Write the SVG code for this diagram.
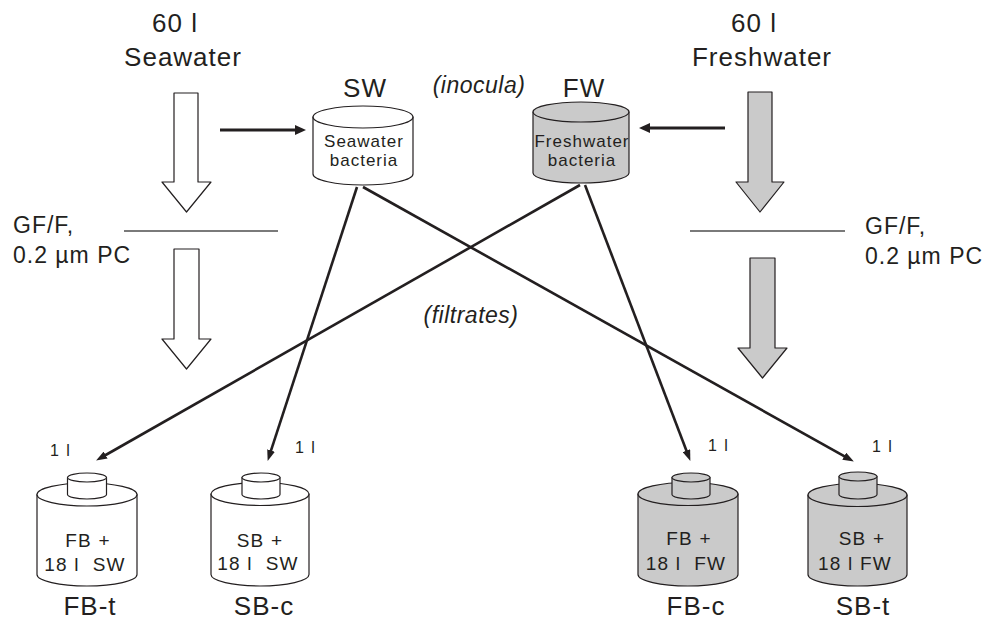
<svg xmlns="http://www.w3.org/2000/svg" width="989" height="621" viewBox="0 0 989 621">
<style>
text{font-family:"Liberation Sans",Arial,Helvetica,sans-serif;fill:#231f20}
.big{font-size:26px;letter-spacing:1px;text-anchor:middle}
.mid{font-size:23px;letter-spacing:1px}
.it{font-size:23px;font-style:italic;letter-spacing:0.5px;text-anchor:middle}
.in{font-size:17px;letter-spacing:1px;text-anchor:middle}
.ct{font-size:19px;letter-spacing:1.2px;text-anchor:middle}
.sm{font-size:16px;letter-spacing:1.5px}
.shp{stroke:#231f20;stroke-width:1.2;stroke-linejoin:round}
.w{fill:#fff}
.g{fill:#cacaca}
.flt{stroke:#7a7a7a;stroke-width:2}
.con{stroke:#231f20;stroke-width:2.6;fill:none;marker-end:url(#ah)}
.hz{stroke:#231f20;stroke-width:3;fill:none;marker-end:url(#ah2)}
</style>
<defs>
<marker id="ah" markerUnits="userSpaceOnUse" markerWidth="11" markerHeight="8" refX="5" refY="4" orient="auto">
<path d="M0,0 L11,4 L0,8 z" fill="#231f20"/>
</marker>
<marker id="ah2" markerUnits="userSpaceOnUse" markerWidth="11" markerHeight="10" refX="5" refY="5" orient="auto">
<path d="M0,0 L11,5 L0,10 z" fill="#231f20"/>
</marker>
</defs>
<rect width="989" height="621" fill="#fff"/>

<g id="seawater-source">
<text class="big" x="175" y="32">60 l</text>
<text class="big" x="183" y="66">Seawater</text>
<polygon class="shp w" points="174,93 198,93 198,182 211,182 186.5,212 162,182 174,182"/>
</g>
<g id="freshwater-source">
<text class="big" x="754" y="32">60 l</text>
<text class="big" x="762" y="66">Freshwater</text>
<polygon class="shp g" points="748,92 772,92 772,182 784,182 760,212 736,182 748,182"/>
</g>

<g id="filter-left">
<line class="flt" x1="124" y1="231" x2="278" y2="231"/>
<text class="mid" x="13" y="233">GF/F,</text>
<text class="mid" x="13" y="263">0.2 µm PC</text>
<polygon class="shp w" points="174,249 199,249 199,339 211,339 186.5,369 162,339 174,339"/>
</g>
<g id="filter-right">
<line class="flt" x1="690" y1="231" x2="845" y2="231"/>
<text class="mid" x="865" y="234">GF/F,</text>
<text class="mid" x="865" y="264">0.2 µm PC</text>
<polygon class="shp g" points="750,258 775,258 775,348 787,348 762.5,378 738,348 750,348"/>
</g>

<g id="sw-inoculum">
<text class="big" x="365" y="97">SW</text>
<path class="shp w" d="M313,117 L313,174 A50,11 0 0 0 413,174 L413,117 Z"/>
<ellipse class="shp w" cx="363" cy="117" rx="50" ry="11"/>
<text class="in" x="364" y="147">Seawater</text>
<text class="in" x="364" y="166">bacteria</text>
</g>
<g id="fw-inoculum">
<text class="big" x="584" y="97">FW</text>
<path class="shp g" d="M533,112 L533,173 A48,10 0 0 0 629,173 L629,112 Z"/>
<ellipse class="shp g" cx="581" cy="112" rx="48" ry="10"/>
<text class="in" x="582" y="147">Freshwater</text>
<text class="in" x="582" y="166">bacteria</text>
</g>

<text class="it" x="479" y="93">(inocula)</text>
<text class="it" x="471" y="323">(filtrates)</text>

<g id="fb-t">
<path class="shp w" d="M37,494.5 L37,574.5 A50,11.5 0 0 0 137,574.5 L137,494.5 Z"/>
<ellipse class="shp w" cx="87" cy="494.5" rx="50" ry="11.5"/>
<path class="shp w" d="M67.5,477.5 L67.5,494.5 A19.5,4.5 0 0 0 106.5,494.5 L106.5,477.5 Z"/>
<ellipse class="shp w" cx="87" cy="477.5" rx="19.5" ry="4.5"/>
<text class="ct" x="88" y="547">FB +</text>
<text class="ct" x="85" y="571" xml:space="preserve">18 l  SW</text>
<text class="big" x="90" y="615">FB-t</text>
<text class="sm" x="50" y="456">1 l</text>
</g>
<g id="sb-c">
<path class="shp w" d="M211,494 L211,574.5 A49,11.5 0 0 0 309,574.5 L309,494 Z"/>
<ellipse class="shp w" cx="260" cy="494" rx="49" ry="11.5"/>
<path class="shp w" d="M242,477.5 L242,494.5 A19,4.5 0 0 0 280,494.5 L280,477.5 Z"/>
<ellipse class="shp w" cx="261" cy="477.5" rx="19" ry="4.5"/>
<text class="ct" x="260" y="547">SB +</text>
<text class="ct" x="258" y="570" xml:space="preserve">18 l  SW</text>
<text class="big" x="264" y="615">SB-c</text>
<text class="sm" x="295" y="453">1 l</text>
</g>
<g id="fb-c">
<path class="shp g" d="M638,494 L638,574.5 A50,11.5 0 0 0 738,574.5 L738,494 Z"/>
<ellipse class="shp g" cx="688" cy="494" rx="50" ry="11.5"/>
<path class="shp g" d="M672,477.5 L672,494.5 A19,4.5 0 0 0 710,494.5 L710,477.5 Z"/>
<ellipse class="shp g" cx="691" cy="477.5" rx="19" ry="4.5"/>
<text class="ct" x="689" y="545">FB +</text>
<text class="ct" x="686" y="570" xml:space="preserve">18 l  FW</text>
<text class="big" x="696" y="615">FB-c</text>
<text class="sm" x="708" y="451">1 l</text>
</g>
<g id="sb-t">
<path class="shp g" d="M808,495 L808,574.5 A49.5,11.5 0 0 0 907,574.5 L907,495 Z"/>
<ellipse class="shp g" cx="857.5" cy="495" rx="49.5" ry="11.5"/>
<path class="shp g" d="M839,476.5 L839,494.5 A19,4.5 0 0 0 877,494.5 L877,476.5 Z"/>
<ellipse class="shp g" cx="858" cy="476.5" rx="19" ry="4.5"/>
<text class="ct" x="862" y="545">SB +</text>
<text class="ct" x="855" y="570">18 l FW</text>
<text class="big" x="863" y="615">SB-t</text>
<text class="sm" x="872" y="452">1 l</text>
</g>

<g id="connectors">
<line class="hz" x1="220" y1="130" x2="300" y2="130"/>
<line class="hz" x1="725" y1="128" x2="645" y2="128"/>
<line class="con" x1="357" y1="187" x2="269.5" y2="455.2"/>
<line class="con" x1="363" y1="187" x2="848.6" y2="458.6"/>
<line class="con" x1="580" y1="185" x2="101.3" y2="457.5"/>
<line class="con" x1="585" y1="185" x2="688.2" y2="455.3"/>
</g>
</svg>
